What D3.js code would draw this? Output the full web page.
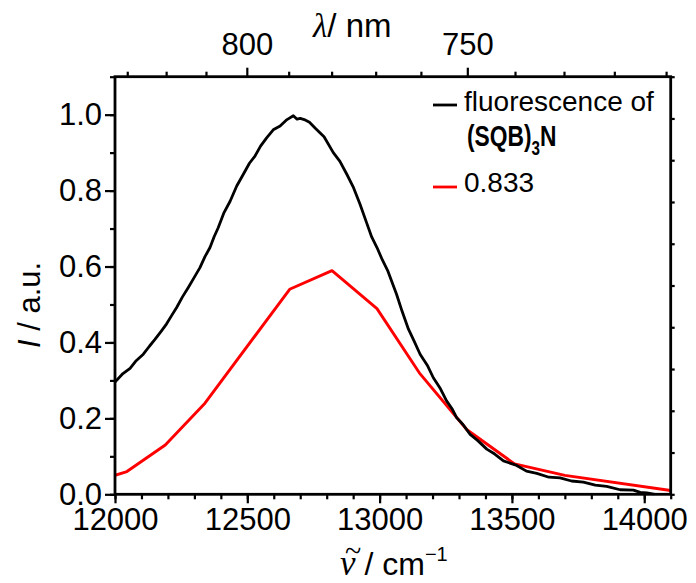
<!DOCTYPE html>
<html>
<head>
<meta charset="utf-8">
<script src="https://cdn.jsdelivr.net/npm/d3@7"></script>
<style>
  body { margin: 0; background: #fff; }
  svg { display: block; font-family: "Liberation Sans", Arial, sans-serif; }
</style>
</head>
<body>
<div id="chart"></div>
<script>
// ---- data ----
// fluorescence of (SQB)3N : wavenumber (cm-1) and normalised intensity
const fluoNu = [12000, 12030, 12057, 12080, 12107, 12130, 12151, 12175, 12195, 12215,
  12233, 12255, 12277, 12300, 12321, 12340, 12359, 12375, 12390, 12412,
  12435, 12460, 12485, 12508, 12529, 12550, 12573, 12598, 12624, 12650,
  12674, 12688, 12700, 12715, 12735, 12756, 12790, 12825, 12850, 12876,
  12900, 12926, 12951, 12970, 12990, 13010, 13030, 13064, 13085, 13109,
  13130, 13153, 13180, 13203, 13230, 13253, 13275, 13291, 13315, 13342,
  13370, 13405, 13435, 13468, 13518, 13555, 13594, 13640, 13682, 13725,
  13770, 13815, 13858, 13909, 13959, 13985, 14010, 14040];
const fluoI = [0.296, 0.318, 0.332, 0.352, 0.369, 0.390, 0.408, 0.430, 0.449, 0.472,
  0.492, 0.520, 0.545, 0.572, 0.597, 0.626, 0.650, 0.679, 0.702, 0.742,
  0.772, 0.812, 0.843, 0.872, 0.891, 0.917, 0.939, 0.960, 0.970, 0.987,
  0.997, 0.988, 0.990, 0.987, 0.980, 0.965, 0.942, 0.900, 0.877, 0.843,
  0.810, 0.764, 0.715, 0.678, 0.650, 0.618, 0.590, 0.527, 0.482, 0.435,
  0.404, 0.369, 0.340, 0.307, 0.278, 0.246, 0.224, 0.202, 0.184, 0.158,
  0.142, 0.119, 0.106, 0.088, 0.076, 0.061, 0.055, 0.045, 0.043, 0.035,
  0.032, 0.024, 0.021, 0.012, 0.011, 0.005, 0.004, 0.000];

// 0.833 curve
const fitNu = [12000, 12045, 12190, 12340, 12660, 12820, 12990, 13150, 13330, 13510, 13700, 14100];
const fitI = [0.050, 0.060, 0.130, 0.240, 0.540, 0.589, 0.489, 0.320, 0.170, 0.080, 0.050, 0.010];

const xTicksMajor = [12000, 12500, 13000, 13500, 14000];
const yTicksMajor = [0.0, 0.2, 0.4, 0.6, 0.8, 1.0];
const topTicksMajor = [800, 750];
const topTicksMinor = [830, 820, 810, 790, 780, 770, 760, 740, 730, 720, 710];

const legendLabels = ["fluorescence of", "0.833"];
const seriesColors = ["#000000", "#ff0000"];

// ---- layout ----
const W = 696, H = 583;
const margin = { left: 115, right: 25.3, top: 76.7, bottom: 88.7 };
const pw = W - margin.left - margin.right;
const ph = H - margin.top - margin.bottom;

const svg = d3.select("#chart").append("svg")
  .attr("width", W).attr("height", H);
svg.append("rect").attr("width", W).attr("height", H).attr("fill", "#fff");

const g = svg.append("g").attr("transform", `translate(${margin.left},${margin.top})`);

const x = d3.scaleLinear().domain([12000, 14100]).range([0, pw]);
const y = d3.scaleLinear().domain([0, 1.1]).range([ph, 0]);
const yRight = d3.scaleLinear().domain([0, 1.0]).range([ph, 0]);

const tickFont = 31;

// bottom axis: minor ticks
g.append("g").attr("transform", `translate(0,${ph})`)
  .call(d3.axisBottom(x).tickValues(d3.range(12000, 14101, 100)).tickSize(5).tickFormat(""))
  .call(a => a.select(".domain").remove())
  .call(a => a.selectAll("line").attr("stroke-width", 2.2));
g.append("g").attr("class", "xaxis").attr("transform", `translate(0,${ph})`)
  .call(d3.axisBottom(x).tickValues(xTicksMajor).tickSize(9).tickPadding(5).tickFormat(d3.format("d")))
  .call(a => a.select(".domain").remove())
  .call(a => a.selectAll("line").attr("stroke-width", 2.2))
  .call(a => a.selectAll("text").attr("font-size", tickFont).attr("fill", "#000")
    .attr("font-family", "Liberation Sans, Arial, sans-serif"));

// left axis
g.append("g")
  .call(d3.axisLeft(y).tickValues(d3.range(0, 1.101, 0.1)).tickSize(5).tickFormat(""))
  .call(a => a.select(".domain").remove())
  .call(a => a.selectAll("line").attr("stroke-width", 2.2));
g.append("g")
  .call(d3.axisLeft(y).tickValues(yTicksMajor).tickSize(10).tickPadding(3).tickFormat(d3.format(".1f")))
  .call(a => a.select(".domain").remove())
  .call(a => a.selectAll("line").attr("stroke-width", 2.2))
  .call(a => a.selectAll("text").attr("font-size", tickFont).attr("fill", "#000")
    .attr("font-family", "Liberation Sans, Arial, sans-serif"));

// right axis (unlabelled, own 0..1 scale)
g.append("g").attr("transform", `translate(${pw},0)`)
  .call(d3.axisRight(yRight).tickValues(d3.range(0, 1.001, 0.1)).tickSize(4).tickFormat(""))
  .call(a => a.select(".domain").remove())
  .call(a => a.selectAll("line").attr("stroke-width", 2.2));

// top axis in wavelength (nm)
const lamX = l => x(1e7 / l);
const topG = g.append("g");
topG.selectAll("line.minor").data(topTicksMinor).enter().append("line")
  .attr("x1", d => lamX(d)).attr("x2", d => lamX(d))
  .attr("y1", 0).attr("y2", -5).attr("stroke", "#000").attr("stroke-width", 2.2);
topG.selectAll("line.major").data(topTicksMajor).enter().append("line")
  .attr("x1", d => lamX(d)).attr("x2", d => lamX(d))
  .attr("y1", 0).attr("y2", -9).attr("stroke", "#000").attr("stroke-width", 2.2);
topG.selectAll("text").data(topTicksMajor).enter().append("text")
  .attr("x", d => lamX(d)).attr("y", -22)
  .attr("text-anchor", "middle").attr("font-size", tickFont)
  .text(d => d);

// curves
const line = d3.line().x(d => x(d[0])).y(d => y(d[1]));
g.append("clipPath").attr("id", "clip")
  .append("rect").attr("width", pw).attr("height", ph + 2).attr("y", -1);

g.append("path")
  .datum(fitNu.map((v, i) => [v, fitI[i]]))
  .attr("d", line).attr("fill", "none")
  .attr("stroke", seriesColors[1]).attr("stroke-width", 2.9)
  .attr("stroke-linejoin", "round")
  .attr("clip-path", "url(#clip)");

g.append("path")
  .datum(fluoNu.map((v, i) => [v, fluoI[i]]))
  .attr("d", line).attr("fill", "none")
  .attr("stroke", seriesColors[0]).attr("stroke-width", 2.8)
  .attr("stroke-linejoin", "round")
  .attr("clip-path", "url(#clip)");

// frame
g.append("rect").attr("width", pw).attr("height", ph)
  .attr("fill", "none").attr("stroke", "#000").attr("stroke-width", 2.8);

// ---- axis titles ----
svg.append("text").attr("x", 313).attr("y", 37).attr("font-size", 33)
  .call(t => t.append("tspan").attr("font-family", "Liberation Serif, serif")
    .attr("font-style", "italic").text("λ"))
  .call(t => t.append("tspan").text("/ nm"));

// x title: nu with tilde drawn as a separate glyph above it
const xt = svg.append("text").attr("x", 340).attr("y", 575).attr("font-size", 32);
xt.append("tspan").attr("font-family", "Liberation Serif, serif")
  .attr("font-style", "italic").attr("font-size", 35).text("ν");
xt.append("tspan").text(" / cm");
xt.append("tspan").attr("font-size", 20).attr("dy", -14).text("−1");
svg.append("text").attr("x", 353).attr("y", 561).attr("text-anchor", "middle")
  .attr("font-family", "Liberation Serif, serif").attr("font-size", 30).text("~");

const yt = svg.append("text").attr("transform", "translate(40,305) rotate(-90)")
  .attr("text-anchor", "middle").attr("font-size", 31);
yt.append("tspan").attr("font-style", "italic").text("I");
yt.append("tspan").text(" / a.u.");

// ---- legend ----
const leg = svg.append("g");
const legY = [105, 187];
leg.selectAll("line").data(legY).enter().append("line")
  .attr("x1", 433).attr("x2", 457).attr("y1", d => d).attr("y2", d => d)
  .attr("stroke", (d, i) => seriesColors[i]).attr("stroke-width", 2.8);
leg.append("text").attr("x", 464).attr("y", 111).attr("font-size", 28).text(legendLabels[0]);
const sq = leg.append("text").attr("transform", "translate(467,146) scale(0.76,1)")
  .attr("font-size", 30).attr("font-weight", "bold");
sq.append("tspan").text("(SQB)");
sq.append("tspan").attr("font-size", 20).attr("dy", 9).text("3");
sq.append("tspan").attr("dy", -9).text("N");
leg.append("text").attr("x", 464).attr("y", 192).attr("font-size", 28).text(legendLabels[1]);
</script>
</body>
</html>
